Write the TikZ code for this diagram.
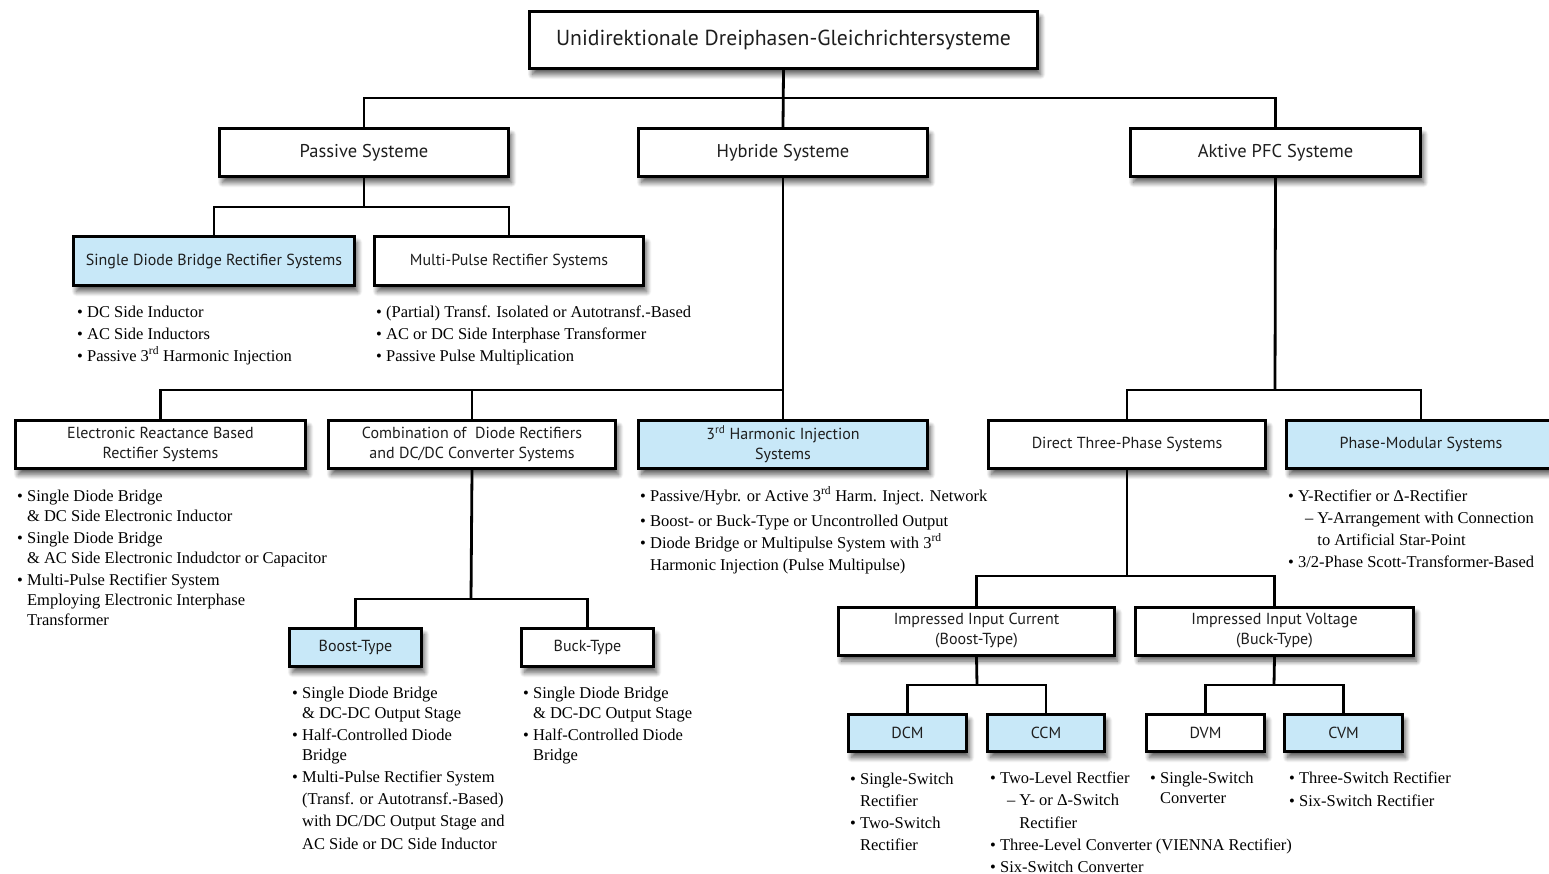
\documentclass[tikz,border=0pt]{standalone}
\usepackage{fontspec}
\setmainfont{Liberation Serif}
\newfontfamily\boxfont{PT Sans}
\usetikzlibrary{shadows.blur}
\definecolor{lblue}{RGB}{200,232,248}
\definecolor{boxtext}{RGB}{30,30,30}
\newcommand\myBul{\textbullet\ }
\newcommand\myCont{\phantom{\textbullet\ }}
\newcommand\mySubD{\myCont\hspace*{7pt}–\ }
\newcommand\mySubC{\myCont\hspace*{7pt}\phantom{–\ }}
\tikzset{
  box/.style={draw, line width=3pt, fill=white, inner sep=0pt, align=center, text=boxtext,
    blur shadow={shadow xshift=3pt, shadow yshift=-6pt, shadow blur radius=5pt, shadow blur steps=10, shadow opacity=65},
    font=\boxfont\fontsize{16}{20}\selectfont},
  hl/.style={fill=lblue},
  bigbox/.style={font=\boxfont\fontsize{18.5}{22}\selectfont},
  conn/.style={line width=2.8pt},
  lst/.style={anchor=north west, inner sep=0pt, align=left, font=\fontsize{16.5}{22}\selectfont}
}
\begin{document}
\begin{tikzpicture}[x=1pt,y=-1pt]
\useasboundingbox (0,0) rectangle (1549,873);
% boxes
\node[box, minimum width=508pt, minimum height=57pt, font=\boxfont\fontsize{21.7}{24}\selectfont] (root) at (783.5,40) {Unidirektionale Dreiphasen-Gleichrichtersysteme};
\node[box, bigbox, minimum width=289pt, minimum height=48pt] (passive) at (364,152.5) {Passive Systeme};
\node[box, bigbox, minimum width=289pt, minimum height=48pt] (hybride) at (783,152.5) {Hybride Systeme};
\node[box, bigbox, minimum width=290pt, minimum height=48pt] (aktive) at (1275.5,152.5) {Aktive PFC Systeme};
\node[box, hl, minimum width=281pt, minimum height=49pt] (sdb) at (214,261) {Single Diode Bridge Rectifier Systems};
\node[box, minimum width=269pt, minimum height=49pt] (mp) at (509,261) {Multi-Pulse Rectifier Systems};
\node[box, minimum width=290pt, minimum height=48pt] (erb) at (160.5,444.5) {Electronic Reactance Based\\Rectifier Systems};
\node[box, minimum width=287pt, minimum height=48pt] (comb) at (472,444.5) {Combination of\ \ Diode Rectifiers\\and DC/DC Converter Systems};
\node[box, hl, minimum width=289pt, minimum height=48pt] (thi) at (783,444.5) {3\textsuperscript{rd} Harmonic Injection\\Systems};
\node[box, minimum width=277pt, minimum height=48pt] (direct) at (1127,444.5) {Direct Three-Phase Systems};
\node[box, hl, minimum width=269pt, minimum height=48pt] (pm) at (1421,444.5) {Phase-Modular Systems};
\node[box, hl, minimum width=132pt, minimum height=38pt] (boost) at (355.5,647.5) {Boost-Type};
\node[box, minimum width=132pt, minimum height=38pt] (buck) at (587.5,647.5) {Buck-Type};
\node[box, minimum width=276pt, minimum height=48pt] (iic) at (976.5,631) {Impressed Input Current\\(Boost-Type)};
\node[box, minimum width=278pt, minimum height=48pt] (iiv) at (1274.5,631) {Impressed Input Voltage\\(Buck-Type)};
\node[box, hl, minimum width=118pt, minimum height=37pt] (dcm) at (907.5,733) {DCM};
\node[box, hl, minimum width=117pt, minimum height=37pt] (ccm) at (1046,733) {CCM};
\node[box, minimum width=118pt, minimum height=37pt] (dvm) at (1205.5,733) {DVM};
\node[box, hl, minimum width=118pt, minimum height=37pt] (cvm) at (1343.5,733) {CVM};
% junctions
\coordinate (j1) at (783,98);
\coordinate (j2) at (364,207);
\coordinate (j3) at (783,390);
\coordinate (j4) at (1275,390);
\coordinate (j5) at (471,599);
\coordinate (j6) at (1127,576);
\coordinate (j7) at (977,685);
\coordinate (j8) at (1274,685);
% connectors
\draw[conn] (root.south) -- (hybride.north);
\draw[conn] (passive.north) |- (j1) -| (aktive.north);
\draw[conn] (passive.south) -- (j2);
\draw[conn] (sdb.north) |- (j2) -| (mp.north);
\draw[conn] (hybride.south) -- (thi.north);
\draw[conn] (erb.north) |- (j3);
\draw[conn] (comb.north) -- (comb.north |- j3);
\draw[conn] (aktive.south) -- (j4);
\draw[conn] (direct.north) |- (j4) -| (pm.north);
\draw[conn] (comb.south) -- (j5);
\draw[conn] (boost.north) |- (j5) -| (buck.north);
\draw[conn] (direct.south) -- (j6);
\draw[conn] (iic.north) |- (j6) -| (iiv.north);
\draw[conn] (iic.south) -- (j7);
\draw[conn] (dcm.north) |- (j7) -| (ccm.north);
\draw[conn] (iiv.south) -- (j8);
\draw[conn] (dvm.north) |- (j8) -| (cvm.north);
% lists
\node[lst] (lsdb) at (77,301.6) {\strut\myBul DC Side Inductor\\
\myBul AC Side Inductors\\
\myBul Passive 3\textsuperscript{rd} Harmonic Injection};
\node[lst] (lmp) at (376,301.6) {\strut\myBul (Partial) Transf. Isolated or Autotransf.-Based\\
\myBul AC or DC Side Interphase Transformer\\
\myBul Passive Pulse Multiplication};
\node[lst] (lerb) at (17,485.6) {\strut\myBul Single Diode Bridge\\[-2pt]
\myCont\& DC Side Electronic Inductor\\
\myBul Single Diode Bridge\\[-2pt]
\myCont\& AC Side Electronic Indudctor or Capacitor\\
\myBul Multi-Pulse Rectifier System\\[-2pt]
\myCont Employing Electronic Interphase\\[-2pt]
\myCont Transformer};
\node[lst] (lthi) at (640,485.6) {\strut\myBul Passive/Hybr. or Active 3\textsuperscript{rd} Harm. Inject. Network\\[3pt]
\myBul Boost- or Buck-Type or Uncontrolled Output\\
\myBul Diode Bridge or Multipulse System with 3\textsuperscript{rd}\\
\myCont Harmonic Injection (Pulse Multipulse)};
\node[lst] (lpm) at (1288,485.6) {\strut\myBul Y-Rectifier or Δ-Rectifier\\
\mySubD Y-Arrangement with Connection\\
\mySubC to Artificial Star-Point\\
\myBul 3/2-Phase Scott-Transformer-Based};
\node[lst] (lboost) at (292,682.6) {\strut\myBul Single Diode Bridge\\[-2pt]
\myCont\& DC-DC Output Stage\\
\myBul Half-Controlled Diode\\[-2pt]
\myCont Bridge\\
\myBul Multi-Pulse Rectifier System\\
\myCont (Transf. or Autotransf.-Based)\\
\myCont with DC/DC Output Stage and\\[1pt]
\myCont AC Side or DC Side Inductor};
\node[lst] (lbuck) at (523,682.6) {\strut\myBul Single Diode Bridge\\[-2pt]
\myCont\& DC-DC Output Stage\\
\myBul Half-Controlled Diode\\[-2pt]
\myCont Bridge};
\node[lst] (ldcm) at (850,768.6) {\strut\myBul Single-Switch\\
\myCont Rectifier\\
\myBul Two-Switch\\
\myCont Rectifier};
\node[lst] (lccm) at (990,767.6) {\strut\myBul Two-Level Rectfier\\
\mySubD Y- or Δ-Switch\\[1pt]
\mySubC Rectifier\\
\myBul Three-Level Converter (VIENNA Rectifier)\\
\myBul Six-Switch Converter};
\node[lst] (ldvm) at (1150,767.6) {\strut\myBul Single-Switch\\[-2pt]
\myCont Converter};
\node[lst] (lcvm) at (1289,767.6) {\strut\myBul Three-Switch Rectifier\\[1pt]
\myBul Six-Switch Rectifier};
\end{tikzpicture}
\end{document}
